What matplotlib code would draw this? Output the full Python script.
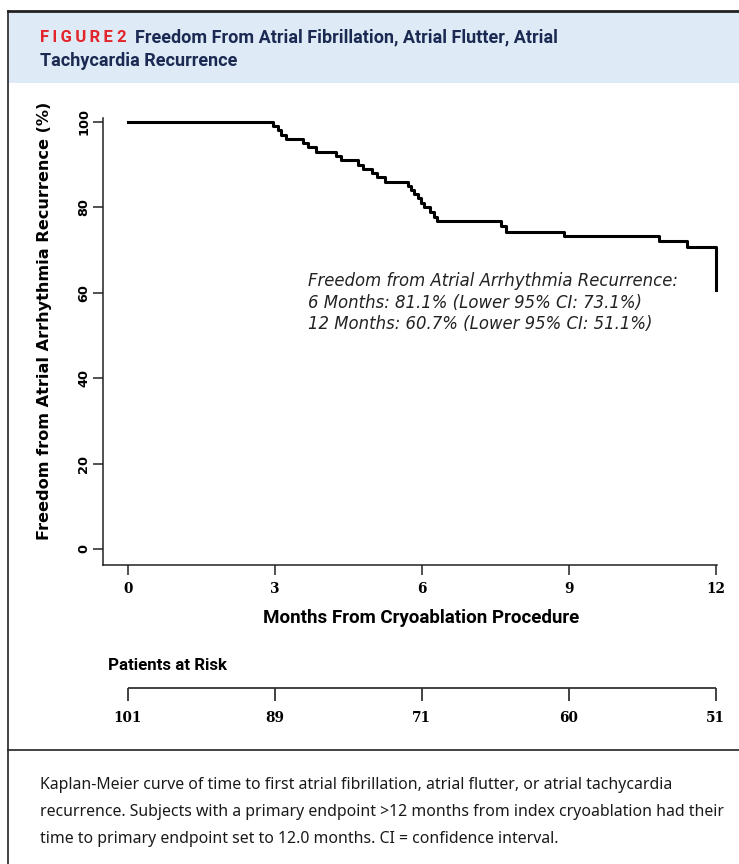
import matplotlib
matplotlib.use('Agg')
from matplotlib import pyplot as plt
from matplotlib.lines import Line2D
from matplotlib.patches import Rectangle

# Kaplan-Meier steps (months, % free of recurrence)
event_months = [0, 2.97, 3.06, 3.12, 3.22, 3.58, 3.68, 3.84, 4.24, 4.36,
                4.70, 4.80, 4.98, 5.08, 5.24, 5.71, 5.78, 5.84, 5.92, 5.98,
                6.04, 6.17, 6.24, 6.32, 7.62, 7.72, 8.91, 10.85, 11.41, 12.0]
survival_pct = [100.0, 99.0, 98.0, 97.0, 96.0, 95.0, 94.0, 93.0, 92.0, 91.0,
                90.0, 89.0, 88.0, 87.0, 86.0, 85.0, 84.0, 83.1, 82.1, 81.1,
                80.0, 78.9, 77.8, 76.7, 75.5, 74.3, 73.2, 72.0, 70.7, 60.7]

x_ticks = [0, 3, 6, 9, 12]
y_ticks = [0, 20, 40, 60, 80, 100]
risk_months = [0, 3, 6, 9, 12]
patients_at_risk = [101, 89, 71, 60, 51]

annotation_lines = [
    'Freedom from Atrial Arrhythmia Recurrence:',
    '6 Months: 81.1% (Lower 95% CI: 73.1%)',
    '12 Months: 60.7% (Lower 95% CI: 51.1%)',
]
caption_lines = [
    'Kaplan-Meier curve of time to first atrial fibrillation, atrial flutter, or atrial tachycardia',
    'recurrence. Subjects with a primary endpoint >12 months from index cryoablation had their',
    'time to primary endpoint set to 12.0 months. CI = confidence interval.',
]

W, H = 739, 864
NARROW = ['Roboto', 'DejaVu Sans']


def fx(x):
    return x / W


def fy(y):
    return 1 - y / H


fig = plt.figure(figsize=(W / 100, H / 100), dpi=100)
fig.patch.set_facecolor('white')

# frame and header band
fig.add_artist(Rectangle((fx(9), fy(83)), 1, fy(12) - fy(83), transform=fig.transFigure,
                         facecolor='#deeaf6', edgecolor='none'))
fig.add_artist(Line2D([fx(8), 1], [fy(11), fy(11)], transform=fig.transFigure, color='#222222', lw=2))
fig.add_artist(Line2D([fx(8), fx(8)], [fy(11), 0], transform=fig.transFigure, color='#222222', lw=1.2))
fig.add_artist(Line2D([fx(8), 1], [fy(750), fy(750)], transform=fig.transFigure, color='#222222', lw=1.2))

fig.text(fx(40), fy(37), '\u2009'.join('FIGURE') + ' 2',
         color='#e3242b', fontsize=12, fontweight='bold',
         family=NARROW, va='center', ha='left')
fig.text(fx(135), fy(37), 'Freedom From Atrial Fibrillation, Atrial Flutter, Atrial',
         color='#1b2a52', fontsize=13, fontweight='bold', family=NARROW, va='center', ha='left')
fig.text(fx(40), fy(61), 'Tachycardia Recurrence', color='#1b2a52', fontsize=13,
         fontweight='bold', family=NARROW, va='center', ha='left')

# main Kaplan-Meier axes
ax = fig.add_axes([fx(103), fy(565), fx(717) - fx(103), fy(118) - fy(565)])
ax.step(event_months, survival_pct, where='post', color='black', lw=2.2, clip_on=False)
ax.set_xlim(-0.51, 12.03)
ax.set_ylim(-3.75, 100.9)
for side in ['top', 'right']:
    ax.spines[side].set_visible(False)
for side in ['left', 'bottom']:
    ax.spines[side].set_linewidth(1.1)
    ax.spines[side].set_color('#222222')
ax.set_xticks(x_ticks)
ax.set_yticks(y_ticks)
ax.tick_params(axis='both', direction='out', length=7, width=1.1, color='#222222')
ax.tick_params(axis='x', pad=5)
ax.tick_params(axis='y', pad=2)
for lbl in ax.get_xticklabels():
    lbl.set_family('DejaVu Serif')
    lbl.set_fontweight('bold')
    lbl.set_fontsize(9.8)
for lbl in ax.get_yticklabels():
    lbl.set_family('DejaVu Sans')
    lbl.set_fontweight('bold')
    lbl.set_fontsize(9.3)
    lbl.set_rotation(90)
    lbl.set_va('center')

ax.set_xlabel('Months From Cryoablation Procedure', family=NARROW, fontweight='bold',
              fontsize=13.5, va='center')
ax.xaxis.set_label_coords(0.518, (565 - 618) / 447)
ax.set_ylabel('Freedom from Atrial Arrhythmia Recurrence (%)', family='DejaVu Sans',
              fontweight='bold', fontsize=11.6, va='center')
ax.yaxis.set_label_coords((45 - 103) / 614, (565 - 321) / 447)

for i, line in enumerate(annotation_lines):
    ax.text(3.68, 62.8 - 5.1 * i, line, fontsize=11.9, style='italic',
            family='DejaVu Sans', color='#222222', va='center', ha='left')

# patients at risk
fig.text(fx(108), fy(665), 'Patients at Risk', family=NARROW, fontweight='bold',
         fontsize=12.2, va='center', ha='left')
risk_ax = fig.add_axes([fx(103), fy(730), fx(717) - fx(103), fy(685) - fy(730)])
risk_ax.set_xlim(-0.51, 12.03)
risk_ax.set_ylim(0, 1)
risk_ax.axis('off')
risk_ax.hlines(0.93, risk_months[0], risk_months[-1], color='#333333', lw=1.3)
risk_ax.vlines(risk_months, 0.65, 0.93, color='#333333', lw=1.3)
for m, n in zip(risk_months, patients_at_risk):
    risk_ax.text(m, 0.27, str(n), family='DejaVu Serif', fontweight='bold', fontsize=9.8,
                 ha='center', va='center')

# caption
for i, line in enumerate(caption_lines):
    fig.text(fx(40), fy(785 + 27 * i), line, family=['Noto Sans', 'DejaVu Sans'], fontsize=11.4,
             color='#1a1a1a', va='center', ha='left')

fig.savefig('out.png', dpi=100)
